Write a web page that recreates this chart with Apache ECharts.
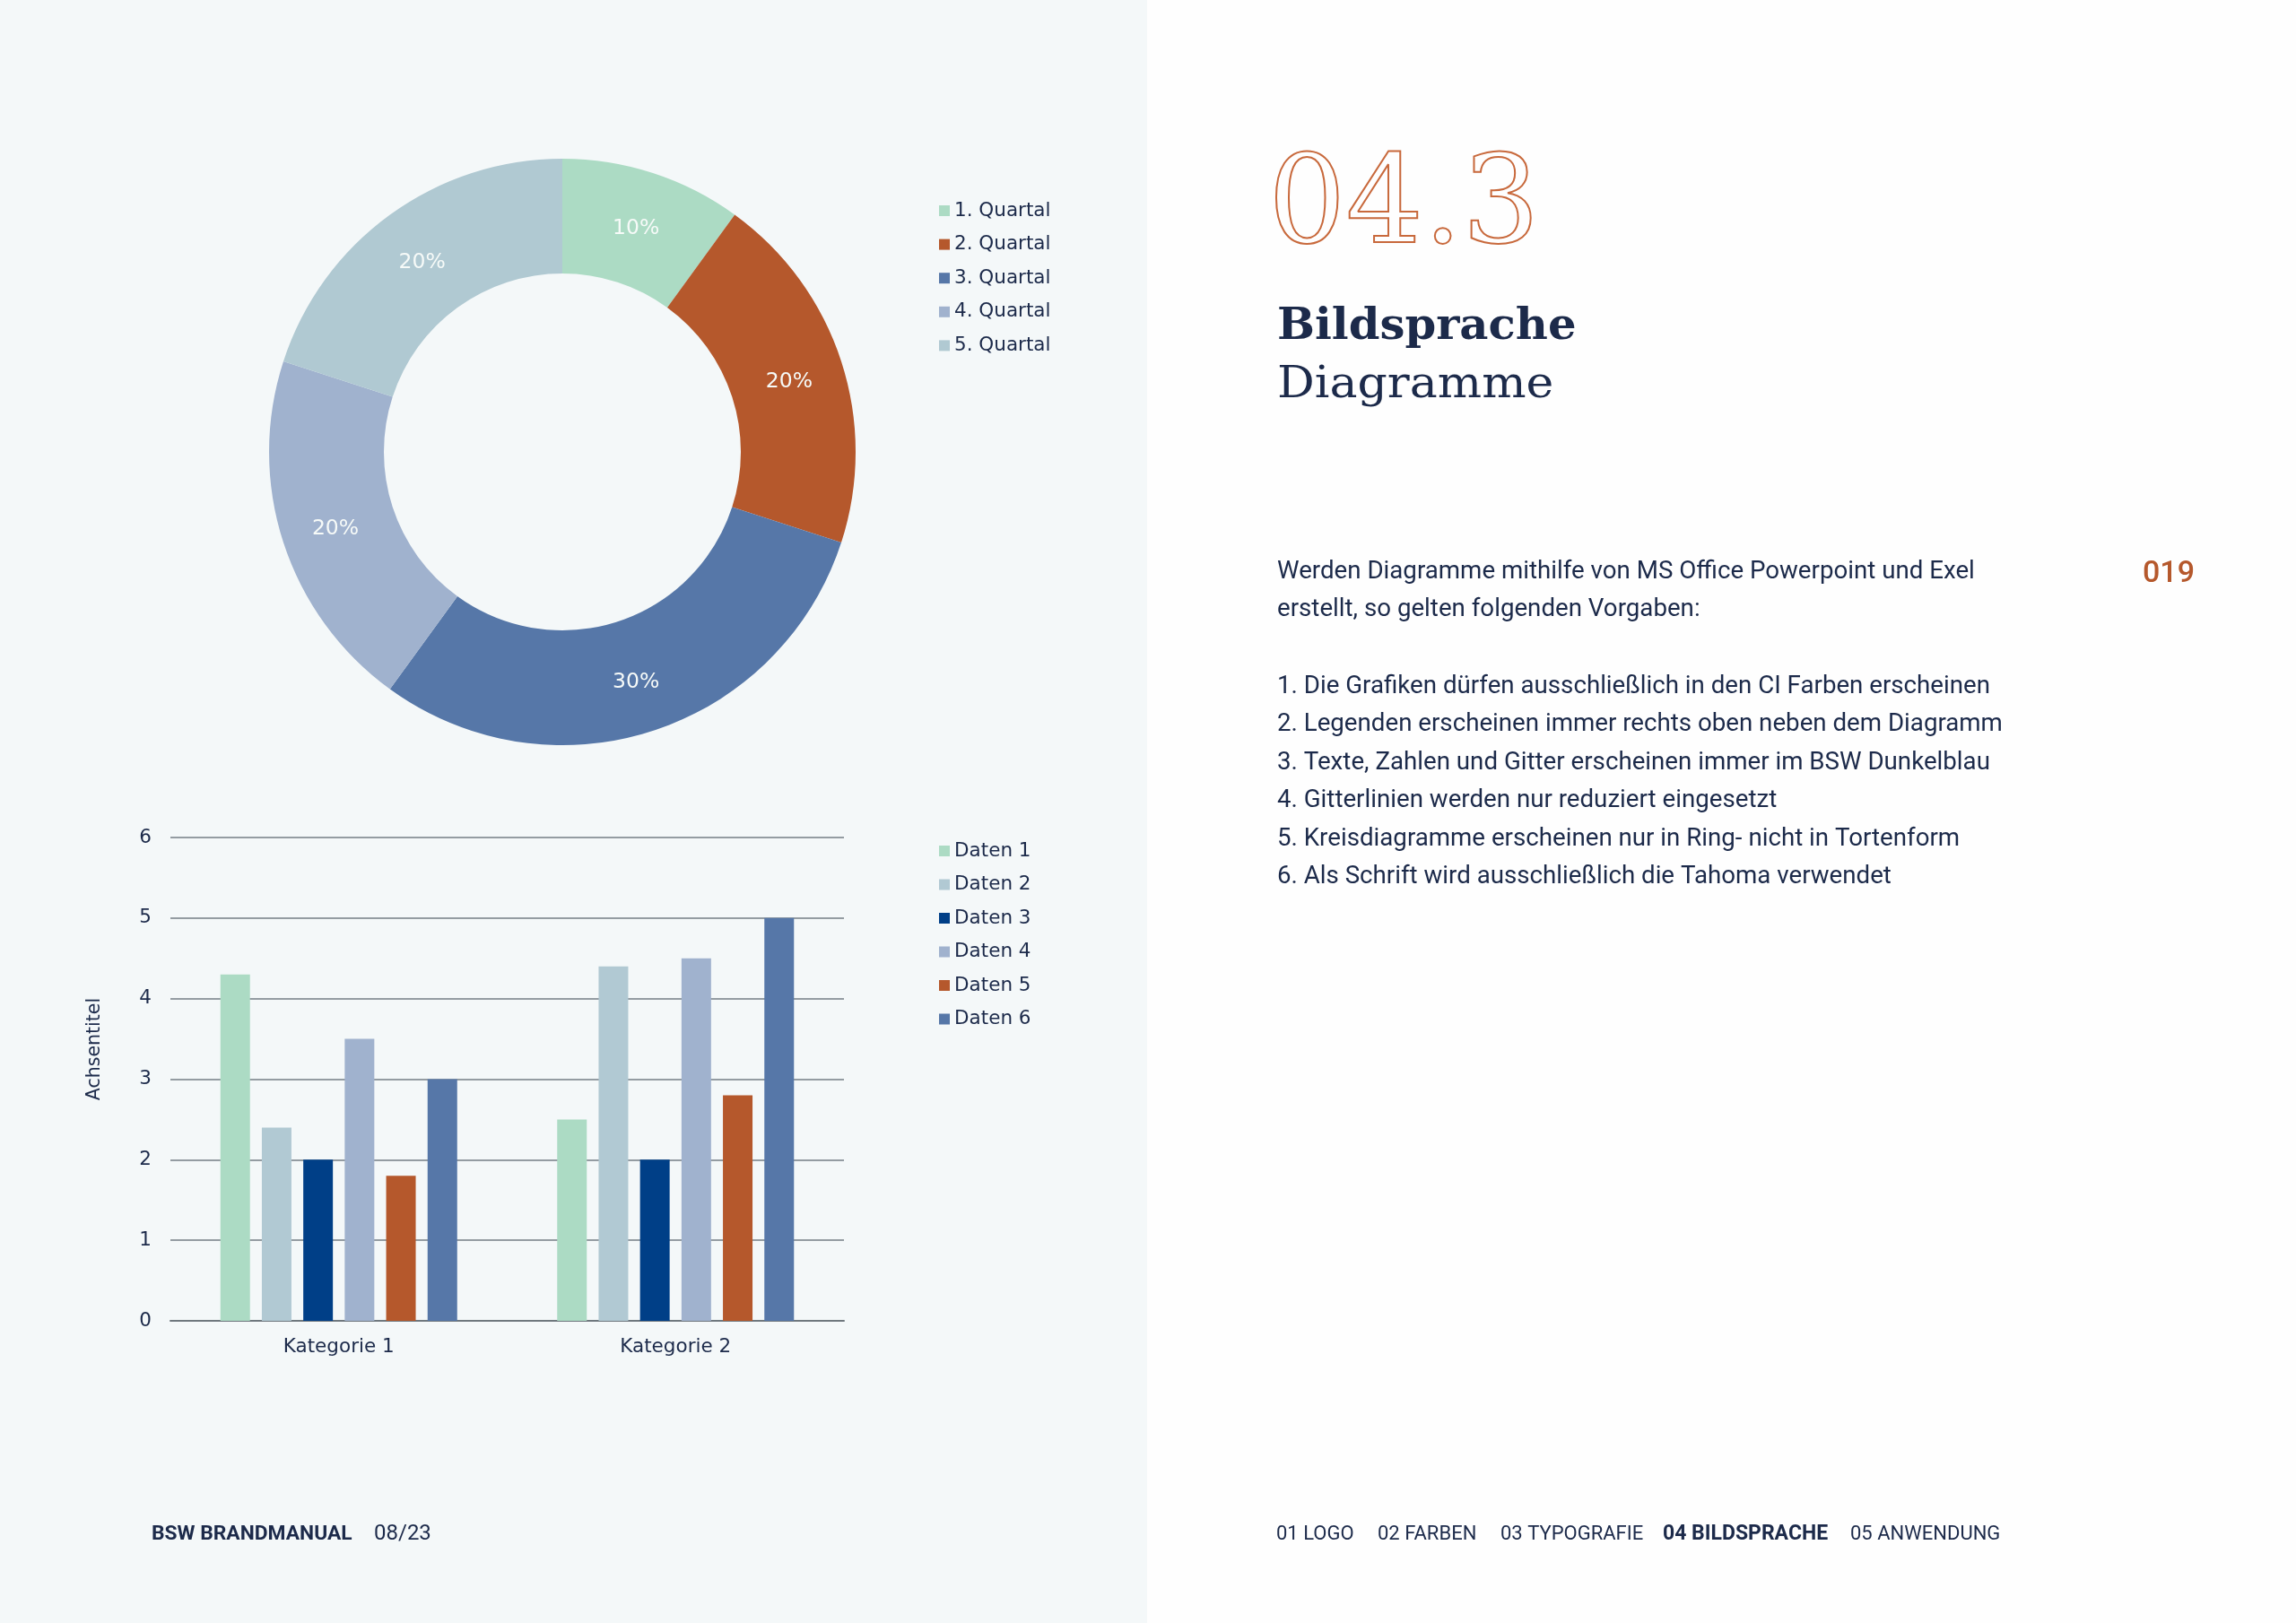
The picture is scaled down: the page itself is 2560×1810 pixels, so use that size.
<!DOCTYPE html>
<html>
<head>
<meta charset="utf-8">
<script src="https://cdn.jsdelivr.net/npm/echarts@6/dist/echarts.min.js"></script>
<style>
html,body{margin:0;padding:0;background:#ffffff;}
#chart{width:2560px;height:1810px;}
</style>
</head>
<body>
<div id="chart"></div>
<script>
// ---- data ----
const pieCategories = ['1. Quartal', '2. Quartal', '3. Quartal', '4. Quartal', '5. Quartal'];
const pieValues = [10, 20, 30, 20, 20];

const barCategories = ['Kategorie 1', 'Kategorie 2'];
const barSeriesNames = ['Daten 1', 'Daten 2', 'Daten 3', 'Daten 4', 'Daten 5', 'Daten 6'];
const daten1 = [4.3, 2.5];
const daten2 = [2.4, 4.4];
const daten3 = [2.0, 2.0];
const daten4 = [3.5, 4.5];
const daten5 = [1.8, 2.8];
const daten6 = [3.0, 5.0];
const yAxisMin = 0, yAxisMax = 6, yAxisStep = 1;
const yAxisTitle = 'Achsentitel';

const introLines = [
  'Werden Diagramme mithilfe von MS Office Powerpoint und Exel',
  'erstellt, so gelten folgenden Vorgaben:'
];
const ruleLines = [
  '1. Die Grafiken dürfen ausschließlich in den CI Farben erscheinen',
  '2. Legenden erscheinen immer rechts oben neben dem Diagramm',
  '3. Texte, Zahlen und Gitter erscheinen immer im BSW Dunkelblau',
  '4. Gitterlinien werden nur reduziert eingesetzt',
  '5. Kreisdiagramme erscheinen nur in Ring- nicht in Tortenform',
  '6. Als Schrift wird ausschließlich die Tahoma verwendet'
];
const navItems = ['01 LOGO', '02 FARBEN', '03 TYPOGRAFIE', '04 BILDSPRACHE', '05 ANWENDUNG'];
const navActive = '04 BILDSPRACHE';

// ---- styles ----
const NAVY = '#1c2a4a';
const ORANGE = '#b5582c';
const pieColors = ['#acdbc4', '#b5582c', '#5677a8', '#a0b2ce', '#b0c9d2'];
const barColors = ['#acdbc4', '#b1c9d3', '#003f87', '#a0b2ce', '#b5582c', '#5677a8'];
const chartFont = '"DejaVu Sans", Verdana, sans-serif';
const bodyFont = 'Roboto, "Open Sans", sans-serif';
const serifFont = '"DejaVu Serif", "Liberation Serif", serif';

const barData = [daten1, daten2, daten3, daten4, daten5, daten6];

const graphics = [
  { type: 'rect', z: -10, shape: { x: 0, y: 0, width: 1279, height: 1810 }, style: { fill: '#f4f8f9' } },
  { type: 'rect', z: -10, shape: { x: 1279, y: 0, width: 1281, height: 1810 }, style: { fill: '#fefefe' } },
  { type: 'text', x: 1414, y: 235, style: { text: '04.3', font: '136px ' + serifFont, fill: 'rgba(0,0,0,0)', stroke: '#c8693c', lineWidth: 2, verticalAlign: 'middle' } },
  { type: 'text', x: 1424, y: 366, scaleX: 1.035, style: { text: 'Bildsprache', font: 'bold 48px ' + serifFont, fill: NAVY, verticalAlign: 'middle' } },
  { type: 'text', x: 1424, y: 431, scaleX: 1.085, style: { text: 'Diagramme', font: '48px ' + serifFont, fill: NAVY, verticalAlign: 'middle' } },
  { type: 'text', x: 2389, y: 640, style: { text: '019', font: '500 34px ' + bodyFont, fill: ORANGE, verticalAlign: 'middle' } },
  { type: 'text', x: 106, y: 1170, rotation: Math.PI / 2, style: { text: yAxisTitle, font: '20.5px ' + chartFont, fill: NAVY, align: 'center', verticalAlign: 'middle' } },
  { type: 'text', x: 169, y: 1711, style: { text: 'BSW BRANDMANUAL', font: 'bold 22.8px ' + bodyFont, fill: NAVY, verticalAlign: 'middle' } },
  { type: 'text', x: 417, y: 1711, style: { text: '08/23', font: '24px ' + bodyFont, fill: NAVY, verticalAlign: 'middle' } }
];
introLines.forEach((t, i) => {
  graphics.push({ type: 'text', x: 1424, y: 638 + i * 42.3, style: { text: t, font: '27.7px ' + bodyFont, fill: NAVY, verticalAlign: 'middle' } });
});
ruleLines.forEach((t, i) => {
  graphics.push({ type: 'text', x: 1424, y: 766 + i * 42.5, style: { text: t, font: '27.7px ' + bodyFont, fill: NAVY, verticalAlign: 'middle' } });
});
const navX = [1423, 1536, 1673, 1854, 2063];
navItems.forEach((t, i) => {
  const active = t === navActive;
  graphics.push({ type: 'text', x: navX[i], y: 1711, style: { text: t, font: (active ? 'bold 23px ' : '22px ') + bodyFont, fill: NAVY, verticalAlign: 'middle' } });
});

const chart = echarts.init(document.getElementById('chart'), null, { renderer: 'canvas', width: 2560, height: 1810 });

chart.setOption({
  animation: false,
  backgroundColor: 'transparent',
  graphic: graphics,
  legend: [
    {
      data: pieCategories, orient: 'vertical', left: 1047, top: 224, padding: 0,
      itemWidth: 12, itemHeight: 12, itemGap: 15.6, icon: 'rect',
      textStyle: { fontFamily: chartFont, fontSize: 21.5, lineHeight: 21.5, color: NAVY },
      selectedMode: false
    },
    {
      data: barSeriesNames, orient: 'vertical', left: 1047, top: 938, padding: 0,
      itemWidth: 12, itemHeight: 12, itemGap: 15.5, icon: 'rect',
      textStyle: { fontFamily: chartFont, fontSize: 21.5, lineHeight: 21.5, color: NAVY },
      selectedMode: false
    }
  ],
  grid: { left: 190, top: 934, width: 751, height: 539, containLabel: false },
  xAxis: {
    type: 'category', data: barCategories,
    axisLine: { show: true, lineStyle: { color: '#6f787e', width: 2 } },
    axisTick: { show: false },
    axisLabel: { fontFamily: chartFont, fontSize: 21.5, color: NAVY, margin: 18 }
  },
  yAxis: {
    type: 'value', min: yAxisMin, max: yAxisMax, interval: yAxisStep,
    axisLine: { show: false }, axisTick: { show: false },
    axisLabel: { fontFamily: chartFont, fontSize: 21.5, color: NAVY, margin: 21 },
    splitLine: { show: true, lineStyle: { color: '#757e85', width: 1.6 } }
  },
  series: [
    {
      type: 'pie', name: 'Quartale', center: [627, 504], radius: [199, 327],
      startAngle: 90, clockwise: true, avoidLabelOverlap: false,
      label: { show: true, position: 'inside', offset: [0, 4], formatter: (p) => p.value + '%', color: '#f6faf8', fontFamily: chartFont, fontSize: 23.5 },
      labelLine: { show: false },
      emphasis: { disabled: true },
      data: pieCategories.map((n, i) => ({ name: n, value: pieValues[i], itemStyle: { color: pieColors[i] } }))
    }
  ].concat(barSeriesNames.map((n, i) => ({
    type: 'bar', name: n, data: barData[i], barWidth: 33, barGap: '40%',
    itemStyle: { color: barColors[i] }, emphasis: { disabled: true }
  })))
});
</script>
</body>
</html>
